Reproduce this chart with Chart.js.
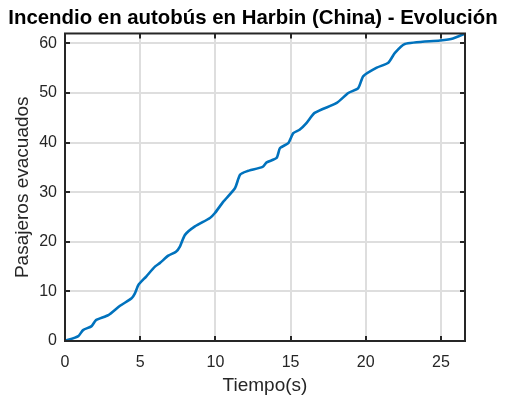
<!DOCTYPE html>
<html>
<head>
<meta charset="utf-8">
<script src="https://cdn.jsdelivr.net/npm/chart.js@4.4.1/dist/chart.umd.min.js"></script>
<style>
  body { margin: 0; background: #fff; }
  #wrap { width: 506px; height: 398px; }
</style>
</head>
<body>
<div id="wrap"><canvas id="grafico"></canvas></div>
<script>
// Datos
var tiempo = [0, 0.89, 1.2, 1.77, 2.06, 2.88, 3.66, 4.43, 4.65, 4.88, 5.4, 5.98, 6.3, 6.87, 7.38, 7.65, 7.98, 8.64, 9.64, 9.97, 10.53, 11.3, 11.64, 12.08, 13.14, 13.41, 14.07, 14.3, 14.85, 15.18, 15.6, 16.07, 16.6, 18.07, 18.84, 19.5, 19.84, 20.73, 21.5, 21.94, 22.6, 24.93, 25.8, 26.6];
var pasajeros = [0, 1.0, 2.2, 3.0, 4.2, 5.2, 7.1, 8.6, 9.6, 11.3, 13.0, 15.0, 15.7, 17.2, 18.0, 19.1, 21.4, 23.1, 24.8, 25.8, 28.1, 30.8, 33.5, 34.2, 35.1, 36.0, 36.9, 38.9, 39.9, 41.9, 42.6, 44.0, 46.0, 48.0, 50.0, 51.0, 53.4, 55.1, 56.1, 58.1, 59.9, 60.6, 61.0, 62.0];
var ticksX = [0, 5, 10, 15, 20, 25];
var ticksY = [0, 10, 20, 30, 40, 50, 60];

var puntos = tiempo.map(function (t, i) { return { x: t, y: pasajeros[i] }; });

var fuente = "'Liberation Sans', Arial, sans-serif";
var colorEje = '#262626';

// Caja y marcas hacia dentro, estilo MATLAB
var cajaPlugin = {
  id: 'caja',
  afterDraw: function (chart) {
    var c = chart.ctx, a = chart.chartArea;
    var sx = chart.scales.x, sy = chart.scales.y;
    c.save();
    c.strokeStyle = colorEje;
    c.lineWidth = 2;
    c.strokeRect(a.left, a.top, a.right - a.left, a.bottom - a.top);
    c.beginPath();
    ticksX.forEach(function (v) {
      var px = Math.round(sx.getPixelForValue(v));
      c.moveTo(px, a.bottom); c.lineTo(px, a.bottom - 5);
      c.moveTo(px, a.top); c.lineTo(px, a.top + 5);
    });
    ticksY.forEach(function (v) {
      var py = Math.round(sy.getPixelForValue(v));
      c.moveTo(a.left, py); c.lineTo(a.left + 5, py);
      c.moveTo(a.right, py); c.lineTo(a.right - 5, py);
    });
    c.stroke();
    c.restore();
  }
};

function soloTicks(lista) {
  return function (scale) {
    scale.ticks = lista.map(function (v) { return { value: v }; });
  };
}

var ctx = document.getElementById('grafico').getContext('2d');
var grafico = new Chart(ctx, {
  type: 'line',
  data: {
    datasets: [{
      label: 'Pasajeros evacuados',
      data: puntos,
      borderColor: '#0072BD',
      borderWidth: 2.6,
      pointRadius: 0,
      tension: 0.2,
      fill: false
    }]
  },
  options: {
    responsive: true,
    maintainAspectRatio: false,
    animation: false,
    layout: { padding: 0 },
    plugins: {
      legend: { display: false },
      tooltip: { enabled: false },
      title: {
        display: true,
        text: 'Incendio en autobús en Harbin (China) - Evolución',
        color: '#000',
        font: { family: fuente, size: 20.4, weight: 'bold' },
        padding: { top: 6, bottom: 3 }
      }
    },
    scales: {
      x: {
        type: 'linear',
        min: 0,
        max: 26.6,
        afterBuildTicks: soloTicks(ticksX),
        afterFit: function (scale) { scale.height = 57; },
        grid: { color: '#dedede', lineWidth: 2, drawTicks: false },
        border: { display: false },
        ticks: { color: colorEje, padding: 12, font: { family: fuente, size: 16 } },
        title: {
          display: true,
          text: 'Tiempo(s)',
          color: colorEje,
          font: { family: fuente, size: 19 },
          padding: { top: 0, bottom: 1 }
        }
      },
      y: {
        min: 0,
        max: 62,
        afterBuildTicks: soloTicks(ticksY),
        afterFit: function (scale) { scale.width = 65; },
        grid: { color: '#dedede', lineWidth: 2, drawTicks: false },
        border: { display: false },
        ticks: { color: colorEje, padding: 8, font: { family: fuente, size: 16 } },
        title: {
          display: true,
          text: 'Pasajeros evacuados',
          color: colorEje,
          font: { family: fuente, size: 19 },
          padding: { top: 11, bottom: 0 }
        }
      },
      derecha: {
        type: 'linear',
        position: 'right',
        display: true,
        afterFit: function (scale) { scale.width = 41; },
        grid: { display: false },
        border: { display: false },
        ticks: { display: false }
      }
    }
  },
  plugins: [cajaPlugin]
});
</script>
</body>
</html>
